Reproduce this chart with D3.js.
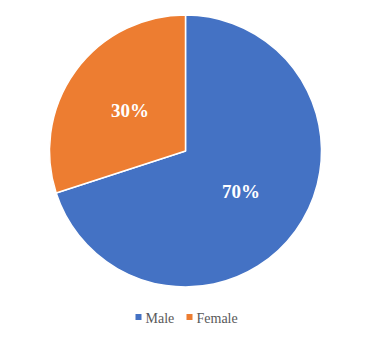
<!DOCTYPE html>
<html>
<head>
<meta charset="utf-8">
<script src="https://cdn.jsdelivr.net/npm/d3@7"></script>
<style>
  html, body { margin: 0; padding: 0; background: #fff; }
  svg { display: block; }
</style>
</head>
<body>
<svg id="chart" width="375" height="340"></svg>
<script>
const categories = ["Male", "Female"];
const values = [70, 30];
const labels = ["70%", "30%"];
const colors = ["#4472C4", "#ED7D31"];

const svg = d3.select("#chart");
const cx = 185.5, cy = 151, R = 136;

const color = d3.scaleOrdinal().domain(categories).range(colors);
const pie = d3.pie().sort(null).value(d => d.v);
const data = pie(categories.map((c, i) => ({ c, v: values[i], l: labels[i] })));
const arc = d3.arc().innerRadius(0).outerRadius(R);
const labelArc = d3.arc().innerRadius(R * 0.505).outerRadius(R * 0.505);

const g = svg.append("g").attr("transform", `translate(${cx},${cy})`);
g.selectAll("path").data(data).enter().append("path")
  .attr("d", arc)
  .attr("fill", d => color(d.data.c))
  .attr("stroke", "#fff")
  .attr("stroke-width", 1.5)
  .attr("stroke-linejoin", "round");

g.selectAll("text").data(data).enter().append("text")
  .attr("transform", d => `translate(${labelArc.centroid(d)})`)
  .attr("text-anchor", "middle")
  .attr("dy", "0.35em")
  .attr("fill", "#fff")
  .attr("font-family", "'Liberation Serif', 'Times New Roman', serif")
  .attr("font-weight", "bold")
  .attr("font-size", 19)
  .text(d => d.data.l);

// Legend
const legend = svg.append("g").attr("transform", "translate(0,318)");
const legendX = [135.5, 186.5];
categories.forEach((c, i) => {
  const lg = legend.append("g").attr("transform", `translate(${legendX[i]},0)`);
  lg.append("rect").attr("x", 0).attr("y", -4).attr("width", 6).attr("height", 6).attr("fill", color(c));
  lg.append("text").attr("x", 10).attr("y", 0).attr("dy", "0.35em")
    .attr("fill", "#595959")
    .attr("font-family", "'Liberation Serif', 'Times New Roman', serif")
    .attr("font-size", 14)
    .text(c);
});
</script>
</body>
</html>
